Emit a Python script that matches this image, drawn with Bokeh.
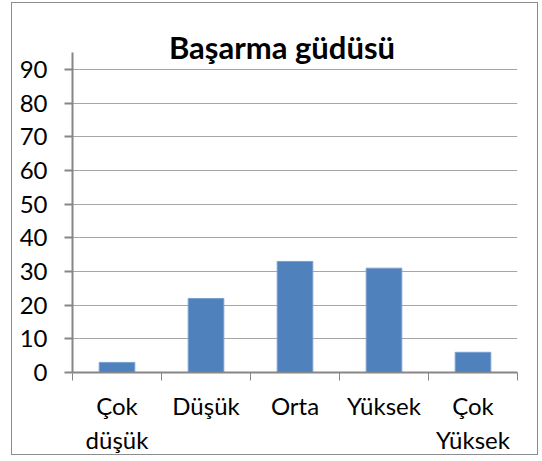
from bokeh.plotting import figure
from bokeh.models import (FactorRange, Range1d, LinearAxis, CategoricalAxis, FixedTicker,
                          Label, ColumnDataSource, CustomJSTickFormatter)
from bokeh.embed import file_html
from bokeh.resources import INLINE

# ---- data ----
categories = ["Çok düşük", "Düşük", "Orta", "Yüksek", "Çok Yüksek"]
label_line1 = ["Çok", "Düşük", "Orta", "Yüksek", "Çok"]
label_line2 = ["düşük", "", "", "", "Yüksek"]
values = [3, 22, 33, 31, 6]
y_ticks = [0, 10, 20, 30, 40, 50, 60, 70, 80, 90]
y_axis_max = 95
title_text = "Başarma güdüsü"

FONT = "Lato"
AXIS_COLOR = "#868686"
GRID_COLOR = "#a6a6a6"
BAR_COLOR = "#4f81bd"

src = ColumnDataSource(dict(cat=categories, val=values))

p = figure(
    x_range=FactorRange(factors=categories, range_padding=0),
    y_range=Range1d(0, 104),
    width=527, height=453,
    output_backend="svg", toolbar_location=None,
    x_axis_location=None, y_axis_location=None,
    min_border_left=60, min_border_right=22, min_border_top=19, min_border_bottom=84,
)
p.styles = {"border": "1px solid #8c8c8c", "margin-left": "11px", "margin-top": "2px"}
p.outline_line_color = None
p.background_fill_color = "white"
p.border_fill_color = "white"

p.vbar(x="cat", top="val", width=0.4, source=src,
       fill_color=BAR_COLOR, line_color="#7a9fd1", line_width=1)

# y axis
yax = LinearAxis(ticker=FixedTicker(ticks=y_ticks), bounds=(0, y_axis_max))
yax.axis_line_color = AXIS_COLOR
yax.axis_line_width = 2
yax.major_tick_line_color = AXIS_COLOR
yax.major_tick_line_width = 2
yax.major_tick_out = 8
yax.major_tick_in = 0
yax.minor_tick_line_color = None
yax.major_label_standoff = 17
yax.major_label_text_font = FONT
yax.major_label_text_font_size = "24px"
yax.major_label_text_color = "black"
p.add_layout(yax, "left")

# x axis: tick marks at category edges (synthetic coordinates 0..N)
edges = list(range(len(categories) + 1))
edge_ax = LinearAxis(ticker=FixedTicker(ticks=edges))
edge_ax.axis_line_color = AXIS_COLOR
edge_ax.axis_line_width = 2
edge_ax.major_tick_line_color = AXIS_COLOR
edge_ax.major_tick_line_width = 1
edge_ax.major_tick_out = 8
edge_ax.major_tick_in = 0
edge_ax.minor_tick_line_color = None
edge_ax.major_label_overrides = {e: "" for e in edges}
edge_ax.major_label_standoff = 0
p.add_layout(edge_ax, "below")

# x axis: category labels, two lines
def label_axis(lines, standoff):
    ax = CategoricalAxis()
    ax.formatter = CustomJSTickFormatter(
        args=dict(cats=categories, lines=lines),
        code="const i = cats.indexOf(tick); return i >= 0 ? lines[i] : '';")
    ax.axis_line_color = None
    ax.major_tick_line_color = None
    ax.major_tick_out = 0
    ax.minor_tick_line_color = None
    ax.major_label_text_font = FONT
    ax.major_label_text_font_size = "24px"
    ax.major_label_text_color = "black"
    ax.major_label_standoff = standoff
    ax.major_label_orientation = "horizontal"
    return ax

p.add_layout(label_axis(label_line1, 10), "below")
p.add_layout(label_axis(label_line2, 2), "below")

p.xgrid.visible = False
p.ygrid.ticker = FixedTicker(ticks=y_ticks[1:])
p.ygrid.grid_line_color = GRID_COLOR
p.ygrid.grid_line_width = 1

title = Label(x=209.5, y=326, x_units="screen", y_units="screen", text=title_text,
              text_font=FONT, text_font_style="bold", text_font_size="31px",
              text_align="center", text_baseline="alphabetic", text_color="black")
p.add_layout(title)

open("out.html", "w").write(file_html(p, INLINE))
